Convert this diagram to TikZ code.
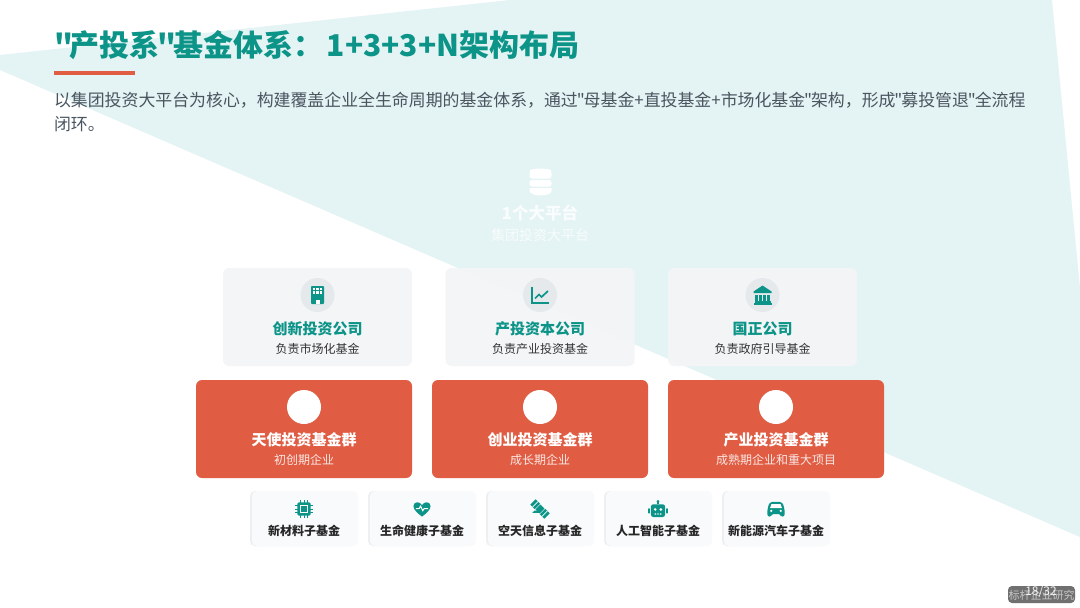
\documentclass[tikz,border=0pt]{standalone}
\usepackage{fontspec}
\newfontfamily\cjkf{Noto Sans CJK SC}
\AtBeginDocument{\cjkf}
\newcommand{\qm}{\kern-1.1pt"\kern-1.1pt}
\definecolor{tealA}{HTML}{0D9488}
\definecolor{orangeA}{HTML}{E05D44}
\definecolor{paleBg}{HTML}{E4F3F3}
\definecolor{cardA}{HTML}{F3F5F7}
\definecolor{discA}{HTML}{E6E9EC}
\definecolor{cardC}{HTML}{F8FAFB}
\definecolor{edgeC}{HTML}{EDEFF1}
\definecolor{bodyT}{HTML}{4A5560}
\definecolor{subT}{HTML}{333333}
\definecolor{tagG}{HTML}{707070}
\tikzset{
  every node/.style={inner sep=0pt,outer sep=0pt},
  cardtop/.style={rounded corners=6pt,fill=cardA,minimum width=189pt,minimum height=98pt},
  cardmid/.style={rounded corners=6pt,fill=orangeA,minimum width=216pt,minimum height=98pt},
  cardlow/.style={rounded corners=5pt,fill=cardC,minimum width=106pt,minimum height=55pt},
  cardedge/.style={rounded corners=5pt,fill=edgeC},
  disc/.style={circle,minimum size=34pt},
  headT/.style={text=tealA,font=\fontsize{15}{18}\selectfont\bfseries},
  headW/.style={text=white,font=\fontsize{15}{18}\selectfont\bfseries},
  subK/.style={text=subT,font=\fontsize{12}{14}\selectfont},
  subW/.style={text=white,text opacity=.85,font=\fontsize{12}{14}\selectfont},
  lowT/.style={text=black!85,font=\fontsize{12}{14}\selectfont\bfseries},
  bodyline/.style={anchor=west,text=bodyT,font=\fontsize{16.9}{24}\selectfont},
}
% ---- icons, each centred on (0,0) ----
\newcommand{\icoBuilding}{%
  \fill[tealA,rounded corners=.8pt] (-6.5,-9) rectangle (6.5,9);
  \foreach \u in {-3.4,0,3.4}\foreach \v in {-5.8,-2.6}
    \fill[white] (\u-1.1,\v-1.1) rectangle (\u+1.1,\v+1.1);
  \fill[white] (-2,4.8) rectangle (2,9.2);}
\newcommand{\icoChart}{%
  \draw[tealA,line width=1.7pt] (-8,-8.5) -- (-8,8) -- (8.5,8);
  \draw[tealA,line width=1.7pt] (-5,3.5) -- (-1,-.5) -- (1.5,2) -- (8,-4);}
\newcommand{\icoBank}{%
  \fill[tealA] (0,-9.5) -- (9,-3.5) -- (9,-2) -- (-9,-2) -- (-9,-3.5) -- cycle;
  \foreach \u in {-6,-2,2,6}\fill[tealA] (\u-1.2,-.5) rectangle (\u+1.2,5.5);
  \fill[tealA] (-8,5.5) rectangle (8,7.5);
  \fill[tealA] (-9,7.5) rectangle (9,9.5);}
\newcommand{\icoDb}{%
  \fill[white,rounded corners=2.5pt] (-11,-12) rectangle (11,-4.5);
  \fill[white,rounded corners=2.5pt] (-11,-3) rectangle (11,3.5);
  \fill[white] (-11,5) -- (11,5) -- (11,8) arc[start angle=0,end angle=180,x radius=11,y radius=4.5] -- cycle;
  \fill[white] (0,-12) ellipse[x radius=11,y radius=2.5];}
\newcommand{\icoChip}{%
  \foreach \u in {-3.5,0,3.5}{
    \draw[tealA,line width=1pt] (\u,-9) -- (\u,9);
    \draw[tealA,line width=1pt] (-9,\u) -- (9,\u);}
  \fill[tealA,rounded corners=1.5pt] (-7,-7) rectangle (7,7);
  \fill[white] (-4.5,-4.5) rectangle (4.5,4.5);
  \fill[tealA] (-3,-3) rectangle (3,3);}
\newcommand{\icoHeart}{%
  \fill[tealA] (0,8) .. controls (-4,5) and (-9,1) .. (-9,-3)
    .. controls (-9,-8) and (-2,-8.5) .. (0,-4)
    .. controls (2,-8.5) and (9,-8) .. (9,-3)
    .. controls (9,1) and (4,5) .. (0,8) -- cycle;
  \draw[white,line width=1pt] (-6.5,-.5) -- (-3,-.5) -- (-1.5,-3) -- (.8,1.8) -- (2.3,-.5) -- (6.5,-.5);}
\newcommand{\icoSat}{%
  \begin{scope}[rotate=-45]
    \fill[tealA] (-3,-3.6) rectangle (3,3.6);
    \fill[tealA] (-10.5,-4) rectangle (-3.8,4);
    \fill[tealA] (3.8,-4) rectangle (10.5,4);
    \draw[white,line width=.6pt] (-7,-4) -- (-7,4) (7,-4) -- (7,4);
  \end{scope}
  \fill[tealA] (-8,4) arc[start angle=200,end angle=340,radius=4] -- cycle;}
\newcommand{\icoRobot}{%
  \fill[tealA] (0,-8) circle (1.5);
  \fill[tealA] (-.7,-8) rectangle (.7,-5);
  \fill[tealA,rounded corners=2.5pt] (-7.5,-5) rectangle (7.5,8.5);
  \fill[tealA,rounded corners=1pt] (-10.5,-1) rectangle (-8.5,5);
  \fill[tealA,rounded corners=1pt] (8.5,-1) rectangle (10.5,5);
  \fill[white] (-3,0.5) circle (1.5) (3,0.5) circle (1.5);
  \fill[white] (-3.5,4.6) rectangle (-2,5.8) (-.75,4.6) rectangle (.75,5.8) (2,4.6) rectangle (3.5,5.8);}
\newcommand{\icoCar}{%
  \fill[tealA,rounded corners=2pt] (-6.5,-7.5) -- (6.5,-7.5) -- (9,-.5) -- (9,8) -- (5,8) -- (5,5.5) -- (-5,5.5) -- (-5,8) -- (-9,8) -- (-9,-.5) -- cycle;
  \fill[white] (-4.8,-5.2) -- (4.8,-5.2) -- (6.2,-1) -- (-6.2,-1) -- cycle;
  \fill[white] (-5,2) circle (1.4) (5,2) circle (1.4);}
\newcommand{\cardTop}[5]{% name, cx, icon, head, sub
  \node[cardtop,opacity=.95] (#1) at (#2,317) {};
  \node[disc,fill=discA] (#1d) at (#2,295) {};
  \begin{scope}[shift={(#2,295)}] #3 \end{scope}
  \node[headT] (#1h) at (#2,328.5) {#4};
  \node[subK] (#1s) at (#2,348.5) {#5};}
\newcommand{\cardMid}[4]{% name, cx, head, sub
  \node[cardmid] (#1) at (#2,429) {};
  \node[disc,fill=white] (#1d) at (#2,407) {};
  \node[headW] (#1h) at (#2,440) {#3};
  \node[subW] (#1s) at (#2,460) {#4};}
\newcommand{\cardLow}[4]{% name, cx, icon, text
  \fill[cardedge] (#2-54,491) rectangle (#2+48,546);
  \node[cardlow] (#1) at (#2+1,518.5) {};
  \begin{scope}[shift={(#2,509)},scale=.95] #3 \end{scope}
  \node[lowT] (#1t) at (#2,531) {#4};}
\begin{document}
\begin{tikzpicture}[x=1pt,y=-1pt]
\useasboundingbox (0,0) rectangle (1080,608);
\fill[white] (0,0) rectangle (1080,608);
\fill[paleBg] (0,55) -- (510,0) -- (1052,0) -- (1080,288) -- (1080,537) -- (0,70) -- cycle;
% header
\node[anchor=west,text=tealA,font=\fontsize{30}{36}\selectfont\bfseries] (title) at (54,45) {"\kern-3pt 产投系\kern-2pt"\kern-3pt 基金体系：\kern3pt 1+3+3+N架构布局};
\fill[orangeA] (54,71) rectangle (135,75);
\node[bodyline] (intro1) at (54,100) {以集团投资大平台为核心，构建覆盖企业全生命周期的基金体系，通过\qm 母基金+直投基金+市场化基金\qm 架构，形成\qm 募投管退\qm 全流程};
\node[bodyline] (intro2) at (54,124) {闭环。};
% platform
\begin{scope}[shift={(540.5,183)}] \icoDb \end{scope}
\node[text=white,text opacity=.85,font=\fontsize{16.5}{20}\selectfont\bfseries] (plat) at (540,213) {1个大平台};
\node[text=white,text opacity=.75,font=\fontsize{14}{16}\selectfont] (platsub) at (540,235) {集团投资大平台};
% cards
\cardTop{ta}{317.5}{\icoBuilding}{创新投资公司}{负责市场化基金}
\cardTop{tb}{540}{\icoChart}{产投资本公司}{负责产业投资基金}
\cardTop{tc}{762.5}{\icoBank}{国正公司}{负责政府引导基金}
\cardMid{ma}{304}{天使投资基金群}{初创期企业}
\cardMid{mb}{540}{创业投资基金群}{成长期企业}
\cardMid{mc}{776}{产业投资基金群}{成熟期企业和重大项目}
\cardLow{la}{304}{\icoChip}{新材料子基金}
\cardLow{lb}{422}{\icoHeart}{生命健康子基金}
\cardLow{lc}{540}{\icoSat}{空天信息子基金}
\cardLow{ld}{658}{\icoRobot}{人工智能子基金}
\cardLow{le}{776}{\icoCar}{新能源汽车子基金}
% tag
\node[fill=tagG,rounded corners=4pt,minimum width=67pt,minimum height=17pt] (tag) at (1041.5,594.5) {};
\node[text=white,text opacity=.6,font=\fontsize{11}{12}\selectfont] (tagw) at (1041.5,595) {标杆企业研究};
\node[text=white,text opacity=.9,font=\fontsize{12}{13}\selectfont] (tagn) at (1041,592) {18/32};
\end{tikzpicture}
\end{document}
